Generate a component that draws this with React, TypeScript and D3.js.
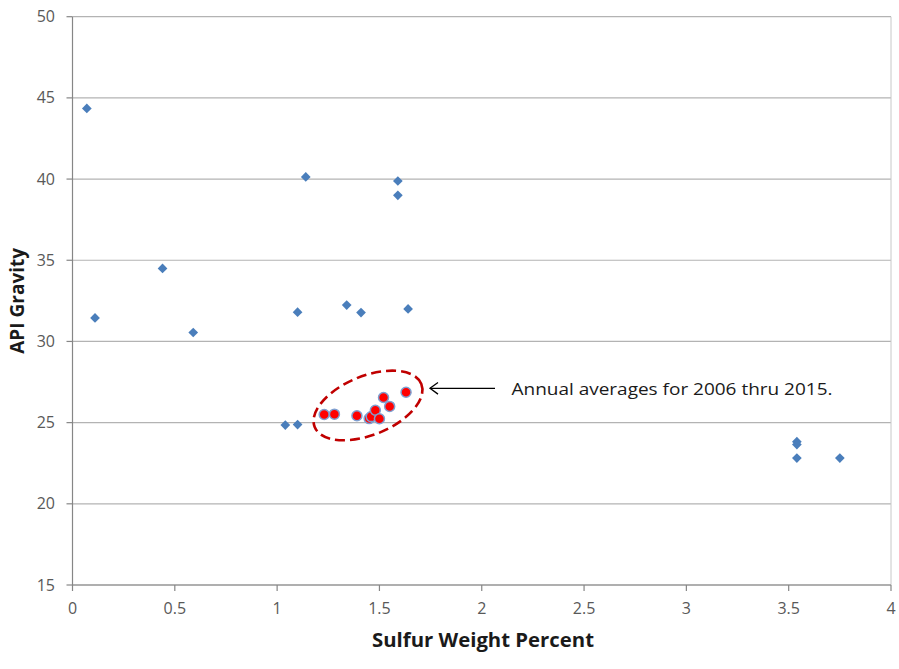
import React from "react";
import * as d3 from "d3";

const crudeSulfur = [0.07, 0.11, 0.44, 0.59, 1.14, 1.59, 1.59, 1.10, 1.34, 1.41, 1.64, 1.04, 1.10, 3.54, 3.54, 3.54, 3.75];
const crudeApi = [44.35, 31.45, 34.5, 30.55, 40.13, 39.88, 39.0, 31.8, 32.24, 31.78, 32.0, 24.85, 24.88, 23.83, 23.65, 22.82, 22.82];

const annualSulfur = [1.23, 1.28, 1.39, 1.45, 1.46, 1.48, 1.50, 1.52, 1.55, 1.63];
const annualApi = [25.5, 25.52, 25.42, 25.25, 25.37, 25.76, 25.24, 26.55, 26.0, 26.87];

const xTicks = [0, 0.5, 1, 1.5, 2, 2.5, 3, 3.5, 4];
const yTicks = [15, 20, 25, 30, 35, 40, 45, 50];

const xTitle = "Sulfur Weight Percent";
const yTitle = "API Gravity";
const annotation = "Annual averages for 2006 thru 2015.";

const W = 899;
const H = 669;
const left = 72.5;
const right = 891;
const top = 16.7;
const bottom = 585;

export default function App() {
  const x = d3.scaleLinear().domain([0, 4]).range([left, right]);
  const y = d3.scaleLinear().domain([15, 50]).range([bottom, top]);
  const diamond = d3.symbol().type(d3.symbolDiamond2).size(60)();
  const tickFont = "'Open Sans', 'Liberation Sans', sans-serif";
  const titleFont = "'Open Sans', 'Liberation Sans', sans-serif";

  // ellipse around annual averages
  const ex = d3.mean(annualSulfur) as number;
  const ey = d3.mean(annualApi) as number;
  const ecx = x(ex) - 1;
  const ecy = y(ey) - 5;

  return (
    <svg
      width={W}
      height={H}
      style={{ position: "absolute", left: 0, top: 0, background: "#fff" }}
    >
      {/* gridlines */}
      {yTicks.map((t) => (
        <line key={"g" + t} x1={left} x2={right} y1={y(t)} y2={y(t)} stroke="#b3b3b3" strokeWidth={1.2} />
      ))}
      {/* right border */}
      <line x1={right} x2={right} y1={top} y2={bottom} stroke="#c8c8c8" strokeWidth={1} />
      {/* axes */}
      <line x1={left} x2={left} y1={top} y2={bottom} stroke="#868686" strokeWidth={1.2} />
      <line x1={left} x2={right} y1={bottom} y2={bottom} stroke="#868686" strokeWidth={1.2} />
      {yTicks.map((t) => (
        <g key={"yt" + t}>
          <line x1={left - 6} x2={left} y1={y(t)} y2={y(t)} stroke="#868686" strokeWidth={1.2} />
          <text x={55} y={y(t)} dy="0.35em" textAnchor="end" fontSize={16} fill="#595959" fontFamily={tickFont}>
            {t}
          </text>
        </g>
      ))}
      {xTicks.map((t) => (
        <g key={"xt" + t}>
          <line x1={x(t)} x2={x(t)} y1={bottom} y2={bottom + 6} stroke="#868686" strokeWidth={1.2} />
          <text x={x(t)} y={614} textAnchor="middle" fontSize={16} fill="#595959" fontFamily={tickFont}>
            {t}
          </text>
        </g>
      ))}
      {/* axis titles */}
      <text x={483} y={647} textAnchor="middle" fontSize={19} fontWeight="bold" fill="#1a1a1a" fontFamily={titleFont} textLength={222} lengthAdjust="spacingAndGlyphs">
        {xTitle}
      </text>
      <text
        transform={`translate(24,${(top + bottom) / 2}) rotate(-90)`}
        textAnchor="middle"
        fontSize={19}
        fontWeight="bold"
        fill="#1a1a1a"
        fontFamily={titleFont}
      >
        {yTitle}
      </text>

      {/* crude diamonds */}
      {crudeSulfur.map((s, i) => (
        <path key={"d" + i} d={diamond as string} transform={`translate(${x(s)},${y(crudeApi[i])})`} fill="#4a7ebb" />
      ))}

      {/* annual averages */}
      {annualSulfur.map((s, i) => (
        <circle key={"c" + i} cx={x(s)} cy={y(annualApi[i])} r={5} fill="#ff0000" stroke="#7f9fd0" strokeWidth={1.5} />
      ))}

      {/* ellipse */}
      <ellipse
        cx={ecx}
        cy={ecy}
        rx={57.5}
        ry={29.5}
        transform={`rotate(-22, ${ecx}, ${ecy})`}
        fill="none"
        stroke="#c00000"
        strokeWidth={2.6}
        strokeDasharray="10 5"
      />

      {/* arrow */}
      <line x1={430} x2={495} y1={388.3} y2={388.3} stroke="#000" strokeWidth={1.3} />
      <path d="M438,382.5 L430,388.3 L438,394.1" fill="none" stroke="#000" strokeWidth={1.3} />
      <text x={511.5} y={394.5} fontSize={16.5} fill="#1a1a1a" fontFamily={tickFont} textLength={321} lengthAdjust="spacingAndGlyphs">
        {annotation}
      </text>
    </svg>
  );
}
